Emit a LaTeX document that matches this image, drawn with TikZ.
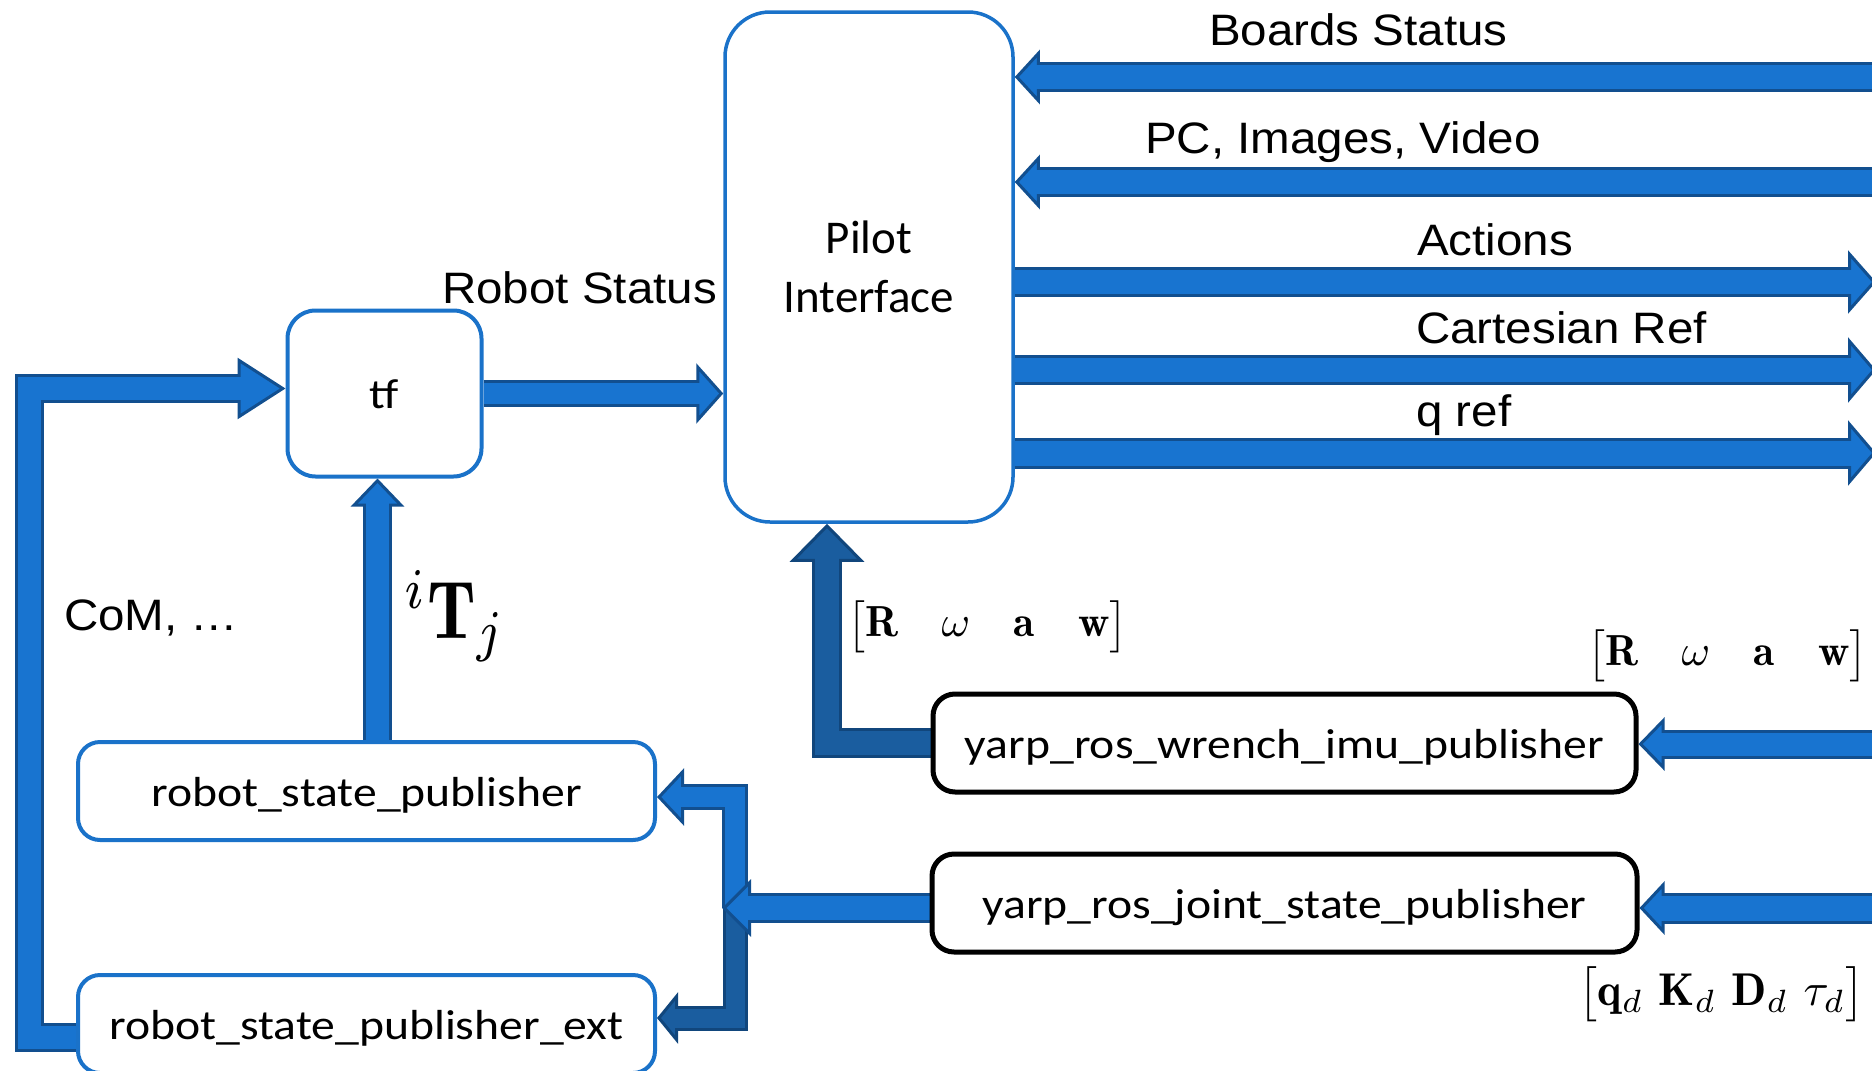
\documentclass[tikz,border=0pt]{standalone}
\usepackage{amsmath}
\usepackage{graphicx}
\usepackage{fontspec}
\newfontfamily\calibri{Carlito}
\newfontfamily\arial{Liberation Sans}
\usetikzlibrary{arrows.meta,calc}

\definecolor{flowfill}{HTML}{1874D0}
\definecolor{flowedge}{HTML}{124F8F}
\definecolor{deepfill}{HTML}{1A5D9F}
\definecolor{deepedge}{HTML}{11467C}
\definecolor{boxblue}{HTML}{1A72C9}

\pgfdeclarelayer{flows}
\pgfsetlayers{flows,main}

% Block arrow drawn in two passes: outline shaft + outlined head, then the lighter core.
% #1 fill, #2 outline, #3 shaft width, #4 head width, #5 head length, #6 path
\newcommand\blockflow[6]{%
  \draw[#2, line width=#3, line join=miter, line cap=butt,
        -{Triangle[length=#5, width=#4, line width=3pt, fill=#1]}] #6;
  \draw[#1, line width=#3-6pt, line join=miter, line cap=butt, shorten >=#5-4pt] #6;
}

\tikzset{
  unitbox/.style={rounded corners=22pt, fill=white, inner sep=0pt,
    text height=30pt, text depth=0pt, font=\calibri\fontsize{42}{50}\selectfont},
  bluebox/.style={unitbox, draw=boxblue, line width=4pt},
  blackbox/.style={unitbox, draw=black, line width=5pt},
  flowlabel/.style={anchor=base west, inner sep=0pt, font=\arial\fontsize{44}{53}\selectfont},
  mathlabel/.style={inner sep=0pt},
}
\newcommand\boxtext[1]{\scalebox{1.135}[1]{#1}}
\newcommand\labeltext[1]{\scalebox{1.08}[1]{#1}}

\begin{document}
\begin{tikzpicture}[x=1pt,y=-1pt]
\useasboundingbox (0,0) rectangle (1872,1071);

% ---- processing blocks ----
\node[draw=boxblue, line width=3.5pt, fill=white, rounded corners=45pt,
      minimum width=288pt, minimum height=510pt, inner sep=0pt, align=center,
      font=\calibri\fontsize{47}{59}\selectfont] (pilot) at (869,267) {Pilot\\Interface};
\node[bluebox, rounded corners=28pt, minimum width=194pt, minimum height=166pt] (tf) at (384.5,393.5) {\boxtext{tf}};
\node[bluebox, minimum width=577pt, minimum height=98pt] (rsp) at (366.5,791) {\boxtext{robot\_state\_publisher}};
\node[bluebox, minimum width=577pt, minimum height=98pt] (ext) at (366.5,1024) {\boxtext{robot\_state\_publisher\_ext}};
\node[blackbox, minimum width=703pt, minimum height=98pt] (wrench) at (1284.5,743) {\boxtext{yarp\_ros\_wrench\_imu\_publisher}};
\node[blackbox, minimum width=705pt, minimum height=98pt] (joint) at (1284.5,903) {\boxtext{yarp\_ros\_joint\_state\_publisher}};

% ---- flow labels ----
\node[flowlabel] (lbBoards) at (1209,45) {\labeltext{Boards Status}};
\node[flowlabel] (lbPC) at (1145,153) {\labeltext{PC, Images, Video}};
\node[flowlabel] (lbActions) at (1417,255) {\labeltext{Actions}};
\node[flowlabel] (lbCart) at (1416,343) {\labeltext{Cartesian Ref}};
\node[flowlabel] (lbQref) at (1416,426) {\labeltext{q ref}};
\node[flowlabel] (lbRobot) at (442,303) {\labeltext{Robot Status}};
\node[flowlabel] (lbCoM) at (64,630) {\labeltext{CoM, …}};

% ---- math labels ----
\node[mathlabel] (imuA) at (987.5,626.5) {\scalebox{4.35}{$\begin{bmatrix}\mathbf{R} & \omega & \mathbf{a} & \mathbf{w}\end{bmatrix}$}};
\node[mathlabel] (imuB) at (1727.5,655.5) {\scalebox{4.35}{$\begin{bmatrix}\mathbf{R} & \omega & \mathbf{a} & \mathbf{w}\end{bmatrix}$}};
\node[mathlabel] (cmdJ) at (1721.5,994) {\scalebox{4.6}{$\bigl[\mathbf{q}_d\ \mathbf{K}_d\ \mathbf{D}_d\ \tau_d\bigr]$}};
\node[mathlabel, anchor=base west] (tfij) at (404,638) {\scalebox{7.0}[8.2]{${}^{i}\mathbf{T}_{j}$}};

% ---- connector end points ----
\coordinate (bsR) at (1890,77);
\coordinate (pcR) at (1890,182);
\coordinate (actR) at (1876,282);
\coordinate (cartR) at (1876,370);
\coordinate (qR) at (1876,453);
\coordinate (fbS) at ([yshift=-13pt]ext.west);
\coordinate (fbE) at ([yshift=5pt]tf.west);
\coordinate (fbX) at (29,0);
\coordinate (rtX) at ([xshift=-7pt]tf.south);
\coordinate (wpE) at ([xshift=-42pt]pilot.south);
\coordinate (wiR) at (1890,744);
\coordinate (jiR) at (1890,908);
\coordinate (split) at (735,908);
\coordinate (splitTip) at (722,908);
\coordinate (rspIn) at ([yshift=-6pt]rsp.east);
\coordinate (extIn) at ([yshift=6pt]ext.east);

\begin{pgfonlayer}{flows}
  % streams exchanged with the pilot interface
  \blockflow{flowfill}{flowedge}{30pt}{54pt}{25pt}{(bsR) -- (bsR -| pilot.east)}
  \blockflow{flowfill}{flowedge}{30pt}{54pt}{25pt}{(pcR) -- (pcR -| pilot.east)}
  \blockflow{flowfill}{flowedge}{30pt}{63pt}{28pt}{(actR -| pilot.east) -- (actR)}
  \blockflow{flowfill}{flowedge}{30pt}{65pt}{28pt}{(cartR -| pilot.east) -- (cartR)}
  \blockflow{flowfill}{flowedge}{31pt}{65pt}{28pt}{(qR -| pilot.east) -- (qR)}
  % tf to pilot
  \blockflow{flowfill}{flowedge}{27pt}{60pt}{27pt}{(tf.east) -- (tf.east -| pilot.west)}
  % feedback loop from the extended publisher into tf
  \blockflow{flowfill}{flowedge}{29pt}{61pt}{48pt}{(fbS) -- (fbS -| fbX) -- (fbX |- fbE) -- (fbE)}
  % robot_state_publisher up into tf
  \blockflow{flowfill}{flowedge}{29pt}{53pt}{28pt}{(rsp.north -| rtX) -- (rtX)}
  % wrench/imu publisher up into the pilot
  \blockflow{deepfill}{deepedge}{30pt}{74pt}{38pt}{(wrench.west) -- (wrench.west -| wpE) -- (wpE)}
  % inputs from the right
  \blockflow{flowfill}{flowedge}{29pt}{53pt}{26pt}{(wiR) -- (wiR -| wrench.east)}
  \blockflow{flowfill}{flowedge}{31pt}{53pt}{25pt}{(jiR) -- (jiR -| joint.east)}
  % joint states split to both state publishers
  \blockflow{deepfill}{deepedge}{25pt}{51pt}{21pt}{(split) -- (split |- extIn) -- (extIn)}
  \blockflow{flowfill}{flowedge}{26pt}{57pt}{27pt}{(split) -- (split |- rspIn) -- (rspIn)}
  \blockflow{flowfill}{flowedge}{30pt}{57pt}{29pt}{(joint.west |- split) -- (splitTip)}
\end{pgfonlayer}
\end{tikzpicture}
\end{document}
